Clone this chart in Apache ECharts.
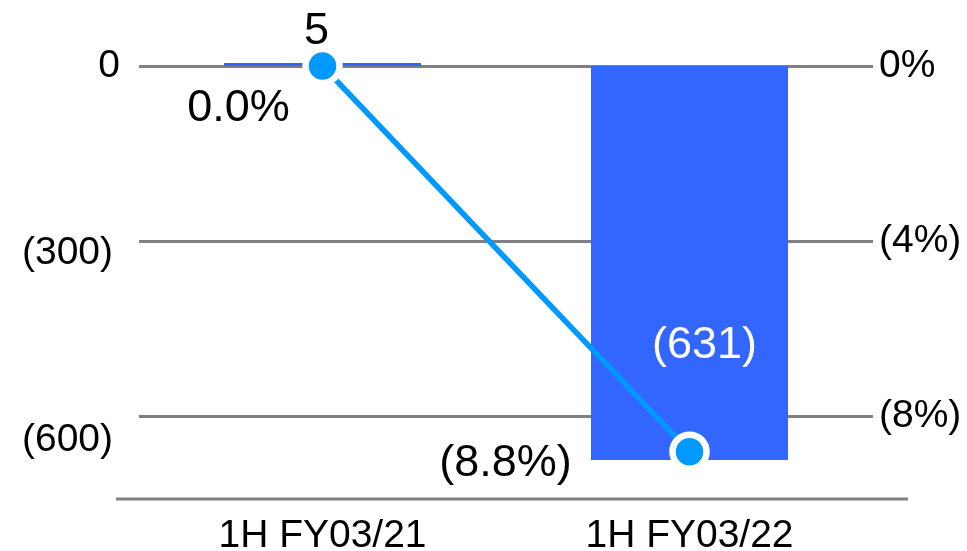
<!DOCTYPE html>
<html>
<head>
<meta charset="utf-8">
<script src="https://cdn.jsdelivr.net/npm/echarts@6/dist/echarts.min.js"></script>
<style>
  html, body { margin: 0; padding: 0; background: #ffffff; }
  #chart { width: 967px; height: 551px; }
</style>
</head>
<body>
<div id="chart"></div>
<script>
// Operating income (left axis, bars) and operating margin (right axis, line)
const categories = ['1H FY03/21', '1H FY03/22'];
const operatingIncome = [5, -631];
const operatingMargin = [0.0, -8.8];
const leftTickValues = [0, -300, -600];
const rightTickValues = [0, -4, -8];

const FONT = "'Liberation Sans', Arial, Helvetica, sans-serif";
const GRID_GREY = '#808080';
const AXIS_FONT = 39;
const VALUE_FONT = 45;

// Accounting style: negatives in parentheses
const fmtNum = v => v < 0 ? '(' + Math.abs(v).toLocaleString('en-US') + ')' : String(v);
const fmtPct = (v, d) => {
  const s = Math.abs(v).toFixed(d) + '%';
  return v < 0 ? '(' + s + ')' : s;
};

// Per-point label placement
const barLabelPlacement = [
  { position: 'top', distance: 9, offset: [-6, 0], color: '#000000' },
  { position: 'inside', offset: [15, 83], color: '#ffffff' }
];
const lineLabelPlacement = [
  { position: 'inside', offset: [-84, 43] },
  { position: 'inside', offset: [-184, 12] }
];

const barData = operatingIncome.map((v, i) => ({
  value: v,
  label: Object.assign({ show: true, formatter: fmtNum(v) }, barLabelPlacement[i])
}));
const lineData = operatingMargin.map((v, i) => ({
  value: v,
  label: Object.assign({ show: true, formatter: fmtPct(v, 1), color: '#000000' }, lineLabelPlacement[i])
}));

const chart = echarts.init(document.getElementById('chart'), null, { renderer: 'canvas' });

chart.setOption({
  animation: false,
  backgroundColor: '#ffffff',
  textStyle: { fontFamily: FONT },
  grid: { left: 139, right: 94, top: 20, bottom: 52, containLabel: false, outerBoundsMode: 'none' },
  xAxis: {
    type: 'category',
    data: categories,
    axisLine: { show: false },
    axisTick: { show: false },
    axisLabel: { fontSize: AXIS_FONT, color: '#000000', fontFamily: FONT, margin: 18 }
  },
  yAxis: [
    {
      type: 'value',
      min: -693.5,
      max: 73.7,
      axisLine: { show: false },
      axisTick: { show: false, customValues: leftTickValues },
      splitLine: { show: false },
      axisLabel: {
        customValues: leftTickValues,
        margin: 19,
        formatter: v => v === 0 ? '{z|' + fmtNum(v) + '}' : '{n|' + fmtNum(v) + '}',
        rich: {
          z: { fontSize: AXIS_FONT, color: '#000000', fontFamily: FONT },
          n: { fontSize: AXIS_FONT, color: '#000000', fontFamily: FONT, padding: [0, 7, 0, 0] }
        }
      }
    },
    {
      type: 'value',
      min: -9.88,
      max: 1.05,
      axisLine: { show: false },
      axisTick: { show: false, customValues: rightTickValues },
      splitLine: { show: true, lineStyle: { color: GRID_GREY, width: 3 } },
      axisLabel: {
        customValues: rightTickValues,
        margin: 6,
        fontSize: AXIS_FONT,
        color: '#000000',
        fontFamily: FONT,
        formatter: v => fmtPct(v, 0)
      }
    }
  ],
  graphic: [
    {
      type: 'line',
      z: 0,
      shape: { x1: 116, y1: 499, x2: 908, y2: 499 },
      style: { stroke: GRID_GREY, lineWidth: 3 }
    }
  ],
  series: [
    {
      name: 'Operating income',
      type: 'bar',
      yAxisIndex: 0,
      barWidth: 197,
      itemStyle: { color: '#3366FF' },
      label: { fontSize: VALUE_FONT, fontFamily: FONT },
      data: barData,
      z: 2
    },
    {
      name: 'Operating margin',
      type: 'line',
      yAxisIndex: 1,
      symbol: 'circle',
      symbolSize: 34,
      itemStyle: { color: '#0099FF', borderColor: '#ffffff', borderWidth: 6.5 },
      lineStyle: { color: '#0099FF', width: 5.5 },
      label: { fontSize: VALUE_FONT, fontFamily: FONT },
      data: lineData,
      z: 3
    }
  ]
});
</script>
</body>
</html>
